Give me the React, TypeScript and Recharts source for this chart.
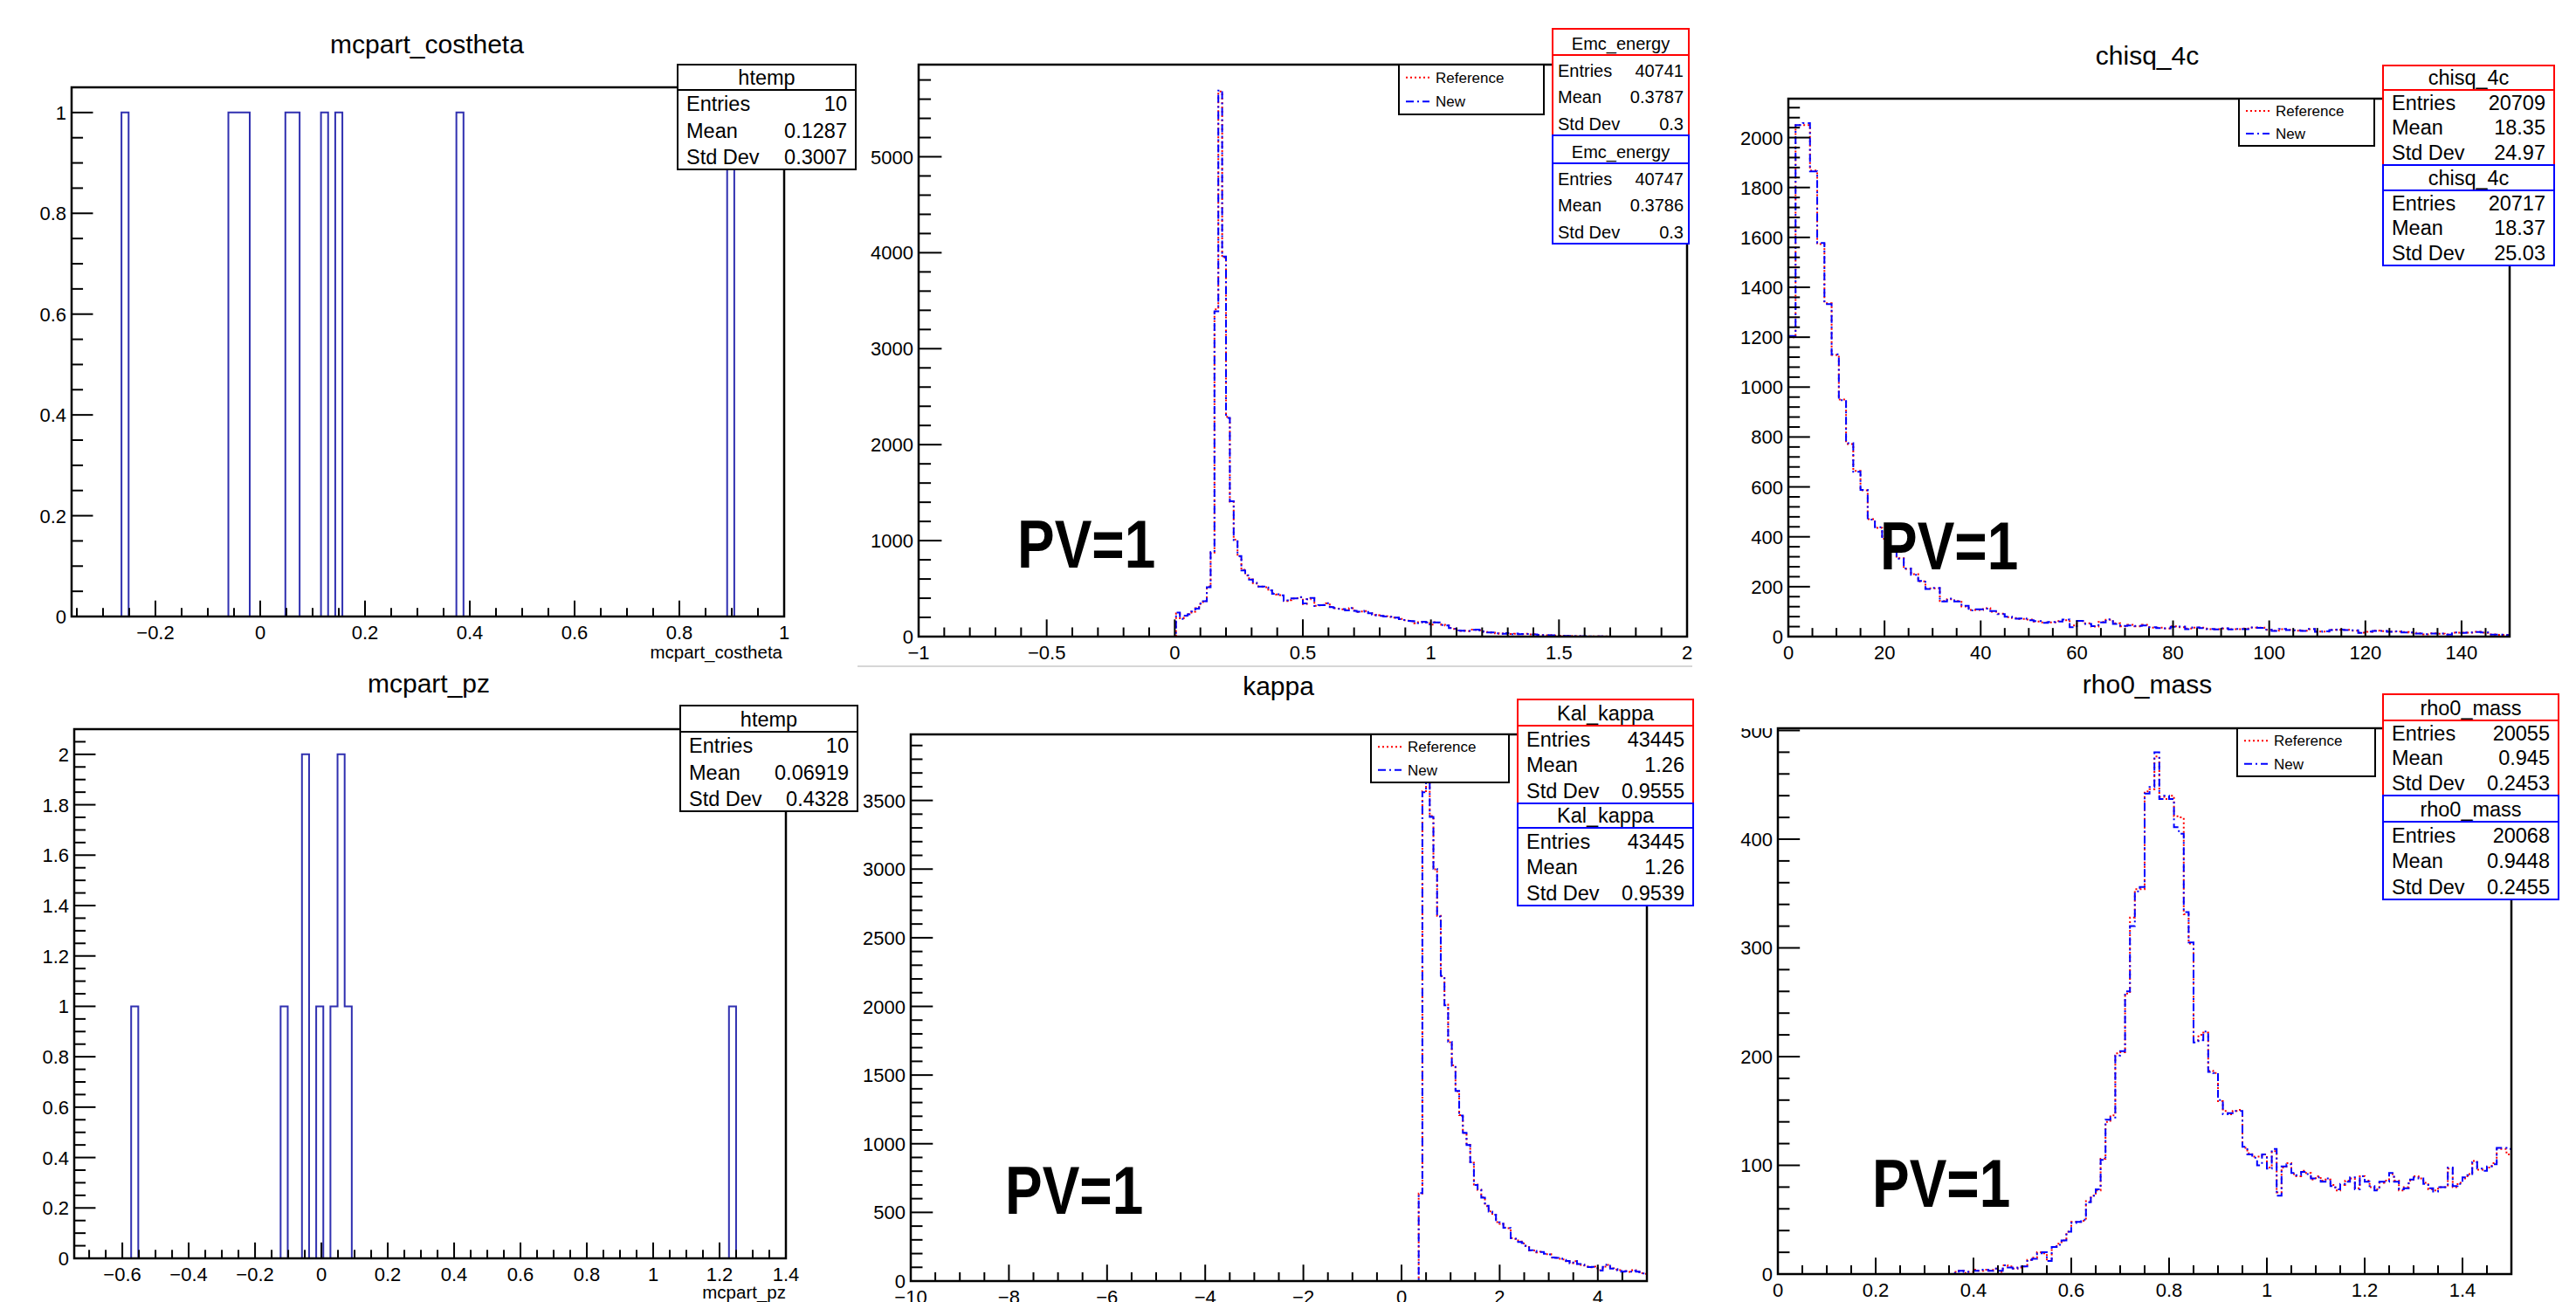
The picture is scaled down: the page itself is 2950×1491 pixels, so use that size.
import React from 'react';
import { LineChart, Line, XAxis, YAxis } from 'recharts';

const FONT = '"Liberation Sans", Arial, Helvetica, sans-serif';
const RED = '#ff0000';
const BLUE = '#0000ff';
const HTEMP = '#3030b0';

// ---------- mcpart_costheta (htemp, 100 bins) ----------
const costhetaBins = 100;
const costhetaRange: [number, number] = [-0.36, 1.0];
const costhetaFilledBins = [7, 22, 23, 24, 30, 31, 35, 37, 54, 92];
const costhetaFilledCounts = [1, 1, 1, 1, 1, 1, 1, 1, 1, 1];
const costhetaXMajor = [-0.2, 0, 0.2, 0.4, 0.6, 0.8, 1];
const costhetaYMajor = [0, 0.2, 0.4, 0.6, 0.8, 1];

// ---------- mcpart_pz (htemp, 100 bins) ----------
const pzBins = 100;
const pzRange: [number, number] = [-0.745, 1.4];
const pzFilledBins = [8, 29, 32, 34, 36, 37, 38, 92];
const pzFilledCounts = [1, 1, 2, 1, 1, 2, 1, 1];
const pzXMajor = [-0.6, -0.4, -0.2, 0, 0.2, 0.4, 0.6, 0.8, 1, 1.2, 1.4];
const pzYMajor = [0, 0.2, 0.4, 0.6, 0.8, 1, 1.2, 1.4, 1.6, 1.8, 2];

// ---------- Emc_energy (200 bins on [-1, 2], counts from bin 67) ----------
const emcBins = 200;
const emcRange: [number, number] = [-1, 2];
const emcFirstBin = 67;
const emcReference = [
  240, 190, 215, 235, 260, 295, 340, 370, 520, 875,
  3410, 5680, 3950, 2290, 1405, 1010, 835, 695, 637, 597,
  557, 523, 520, 515, 480, 450, 440, 432, 370, 380,
  395, 400, 410, 340, 390, 400, 320, 325, 330, 345,
  310, 295, 292, 285, 275, 295, 270, 258, 262, 266,
  245, 225, 222, 214, 212, 205, 198, 195, 185, 170,
  165, 160, 138, 150, 152, 150, 125, 150, 145, 122,
  115, 90, 80, 65, 60, 62, 58, 72, 70, 66,
  48, 45, 42, 35, 30, 32, 34, 28, 30, 26,
  25, 30, 22, 24, 18, 16, 14, 15, 12, 10,
  9, 8, 6, 5, 5, 4, 3, 3, 2, 2,
  1, 2, 1, 1,
];
const emcNew = [
  250, 185, 218, 232, 262, 292, 345, 368, 515, 880,
  3390, 5690, 3960, 2280, 1410, 1005, 840, 690, 640, 594,
  560, 520, 522, 512, 483, 447, 442, 430, 372, 378,
  398, 398, 412, 345, 388, 402, 318, 328, 327, 348,
  308, 297, 290, 287, 273, 297, 268, 260, 260, 268,
  243, 227, 220, 216, 210, 207, 196, 197, 183, 172,
  163, 162, 140, 148, 154, 148, 127, 148, 147, 120,
  117, 88, 82, 63, 62, 60, 60, 70, 72, 64,
  50, 43, 44, 33, 32, 30, 36, 26, 31, 25,
  27, 28, 23, 22, 19, 15, 15, 14, 13, 9,
  10, 7, 7, 4, 6, 3, 4, 2, 3, 1,
  2, 1, 1, 1,
];
const emcXMajor = [-1, -0.5, 0, 0.5, 1, 1.5, 2];
const emcYMajor = [0, 1000, 2000, 3000, 4000, 5000];

// ---------- chisq_4c (100 bins on [0, 150]) ----------
const chisqBins = 100;
const chisqRange: [number, number] = [0, 150];
const chisqReference = [
  1200, 2050, 2050, 1868, 1573, 1336, 1129, 950, 772, 664,
  586, 471, 436, 392, 343, 314, 271, 250, 221, 193,
  193, 143, 150, 143, 121, 107, 107, 114, 100, 92,
  78, 74, 71, 68, 60, 57, 57, 62, 66, 45,
  62, 53, 40, 59, 67, 53, 41, 47, 41, 47,
  36, 36, 32, 41, 38, 32, 36, 36, 30, 30,
  32, 30, 30, 32, 36, 36, 27, 24, 30, 27,
  24, 24, 30, 20, 20, 27, 27, 27, 24, 16,
  19, 24, 22, 20, 20, 18, 16, 13, 9, 13,
  11, 9, 16, 16, 16, 19, 16, 9, 7, 7,
];
const chisqNew = [
  1205, 2050, 2058, 1865, 1578, 1333, 1131, 948, 775, 661,
  588, 469, 438, 390, 345, 312, 273, 248, 223, 191,
  195, 141, 152, 141, 123, 105, 109, 112, 102, 90,
  80, 72, 73, 66, 62, 55, 59, 60, 68, 38,
  63, 51, 42, 57, 69, 51, 43, 45, 43, 45,
  38, 34, 33, 39, 40, 30, 37, 34, 31, 29,
  33, 29, 31, 30, 37, 35, 28, 23, 31, 26,
  25, 23, 31, 19, 21, 26, 28, 26, 25, 15,
  20, 23, 23, 19, 21, 17, 17, 12, 10, 12,
  12, 8, 17, 15, 17, 18, 17, 8, 8, 6,
];
const chisqXMajor = [0, 20, 40, 60, 80, 100, 120, 140];
const chisqYMajor = [0, 200, 400, 600, 800, 1000, 1200, 1400, 1600, 1800, 2000];

// ---------- kappa (200 bins on [-10, 5], counts from bin 138) ----------
const kappaBins = 200;
const kappaRange: [number, number] = [-10, 5];
const kappaFirstBin = 138;
const kappaReference = [
  637, 3568, 3790, 3387, 2998, 2660, 2219, 2012, 1739, 1571,
  1381, 1208, 1078, 992, 862, 702, 663, 611, 546, 507,
  481, 430, 416, 390, 385, 313, 307, 287, 274, 256,
  222, 222, 209, 213, 196, 196, 170, 170, 162, 157,
  144, 131, 144, 126, 118, 105, 100, 105, 92, 79,
  105, 118, 92, 85, 79, 66, 73, 66, 79, 66,
  58, 53,
];
const kappaNew = [
  640, 3560, 3795, 3380, 3002, 2655, 2222, 2008, 1742, 1568,
  1384, 1205, 1080, 990, 865, 700, 665, 608, 548, 505,
  483, 428, 418, 388, 387, 311, 309, 285, 276, 254,
  224, 220, 211, 211, 198, 194, 172, 168, 164, 155,
  146, 129, 146, 124, 120, 103, 102, 103, 94, 77,
  103, 120, 90, 87, 77, 68, 71, 68, 77, 68,
  56, 55,
];
const kappaXMajor = [-10, -8, -6, -4, -2, 0, 2, 4];
const kappaYMajor = [0, 500, 1000, 1500, 2000, 2500, 3000, 3500];

// ---------- rho0_mass (150 bins on [0, 1.5], counts from bin 36) ----------
const rhoBins = 150;
const rhoRange: [number, number] = [0, 1.5];
const rhoFirstBin = 36;
const rhoReference = [
  2, 3, 1, 2, 4, 3, 4, 3, 5, 2,
  8, 7, 5, 6, 7, 13, 15, 20, 19, 12,
  25, 28, 31, 39, 48, 48, 49, 67, 72, 77,
  106, 140, 146, 203, 204, 258, 328, 354, 354, 444,
  446, 476, 439, 437, 440, 421, 420, 331, 304, 215,
  220, 222, 187, 185, 159, 150, 147, 150, 151, 116,
  111, 108, 108, 110, 98, 113, 75, 98, 102, 92,
  90, 95, 93, 87, 90, 86, 87, 82, 77, 82,
  86, 88, 79, 90, 86, 80, 78, 84, 86, 92,
  86, 77, 80, 86, 90, 88, 84, 78, 77, 80,
  80, 97, 80, 84, 88, 92, 104, 96, 96, 98,
  102, 115, 115, 110,
];
const rhoNew = [
  1, 3, 2, 2, 3, 4, 4, 3, 5, 3,
  8, 6, 5, 7, 7, 13, 14, 19, 20, 12,
  25, 27, 31, 39, 47, 48, 50, 66, 72, 78,
  105, 142, 144, 201, 205, 260, 320, 352, 356, 442,
  448, 480, 437, 440, 437, 411, 405, 333, 305, 213,
  215, 223, 186, 185, 160, 147, 148, 150, 150, 117,
  110, 107, 100, 110, 97, 115, 72, 99, 101, 93,
  91, 94, 92, 88, 89, 85, 88, 81, 78, 83,
  85, 89, 78, 90, 85, 81, 77, 85, 85, 93,
  85, 78, 79, 87, 89, 88, 83, 79, 76, 80,
  80, 98, 81, 83, 89, 91, 103, 97, 95, 99,
  101, 116, 116, 115,
];
const rhoXMajor = [0, 0.2, 0.4, 0.6, 0.8, 1, 1.2, 1.4];
const rhoYMajor = [0, 100, 200, 300, 400, 500];

// ---------- stat boxes ----------
const statLabels = ['Entries', 'Mean', 'Std Dev'];
const costhetaStats = ['htemp', '10', '0.1287', '0.3007'];
const pzStats = ['htemp', '10', '0.06919', '0.4328'];
const emcRefStats = ['Emc_energy', '40741', '0.3787', '0.3'];
const emcNewStats = ['Emc_energy', '40747', '0.3786', '0.3'];
const chisqRefStats = ['chisq_4c', '20709', '18.35', '24.97'];
const chisqNewStats = ['chisq_4c', '20717', '18.37', '25.03'];
const kappaRefStats = ['Kal_kappa', '43445', '1.26', '0.9555'];
const kappaNewStats = ['Kal_kappa', '43445', '1.26', '0.9539'];
const rhoRefStats = ['rho0_mass', '20055', '0.945', '0.2453'];
const rhoNewStats = ['rho0_mass', '20068', '0.9448', '0.2455'];
const legendLabels = ['Reference', 'New'];

// ---------- helpers ----------
function sparseCounts(n: number, bins: number[], counts: number[]) {
  const a = new Array(n).fill(0);
  bins.forEach((b, i) => { a[b] = counts[i]; });
  return a;
}

function histRows(range: [number, number], n: number, first: number, ref: number[], neu?: number[]) {
  const w = (range[1] - range[0]) / n;
  const rows: { x: number; ref: number; neu: number }[] = [];
  for (let i = 0; i <= n; i++) {
    const b = Math.min(i, n - 1) - first;
    rows.push({ x: range[0] + i * w, ref: ref[b] ?? 0, neu: (neu ?? ref)[b] ?? 0 });
  }
  return rows;
}

function tickList(lo: number, hi: number, step: number) {
  const out: number[] = [];
  const start = Math.ceil(lo / step - 1e-9);
  for (let i = start; i * step <= hi + 1e-9; i++) out.push(Math.round(i * step * 1e6) / 1e6);
  return out;
}

const isMajor = (v: number, majors: number[]) => majors.some((m) => Math.abs(m - v) < 1e-6);
const fmt = (v: number) => {
  const r = Math.round(v * 1e4) / 1e4;
  return r < 0 ? '\u2212' + String(-r) : String(r);
};

type Frame = { x: number; y: number; w: number; h: number };
type Series = { key: 'ref' | 'neu'; color: string; dash?: string; width: number };
type Panel = {
  frame: Frame;
  rows: { x: number; ref: number; neu: number }[];
  xDomain: [number, number];
  yDomain: [number, number];
  xMajor: number[];
  xMinor: number;
  yMajor: number[];
  yMinor: number;
  series: Series[];
};

const YW = 90;
const XH = 60;
const RM = 40;

const refSeries: Series = { key: 'ref', color: RED, dash: '2 3', width: 2 };
const newSeries: Series = { key: 'neu', color: BLUE, dash: '9 4 2 4', width: 2 };
const htempSeries: Series[] = [{ key: 'ref', color: HTEMP, width: 2 }];

const panels: Panel[] = [
  {
    frame: { x: 82, y: 100, w: 816, h: 606 },
    rows: histRows(costhetaRange, costhetaBins, 0, sparseCounts(costhetaBins, costhetaFilledBins, costhetaFilledCounts)),
    xDomain: costhetaRange, yDomain: [0, 1.05],
    xMajor: costhetaXMajor, xMinor: 0.05, yMajor: costhetaYMajor, yMinor: 0.05,
    series: htempSeries,
  },
  {
    frame: { x: 1052, y: 74, w: 880, h: 655 },
    rows: histRows(emcRange, emcBins, emcFirstBin, emcReference, emcNew),
    xDomain: emcRange, yDomain: [0, 5960],
    xMajor: emcXMajor, xMinor: 0.1, yMajor: emcYMajor, yMinor: 200,
    series: [refSeries, newSeries],
  },
  {
    frame: { x: 2048, y: 113, w: 826, h: 616 },
    rows: histRows(chisqRange, chisqBins, 0, chisqReference, chisqNew),
    xDomain: chisqRange, yDomain: [0, 2156],
    xMajor: chisqXMajor, xMinor: 5, yMajor: chisqYMajor, yMinor: 40,
    series: [refSeries, newSeries],
  },
  {
    frame: { x: 85, y: 835, w: 815, h: 606 },
    rows: histRows(pzRange, pzBins, 0, sparseCounts(pzBins, pzFilledBins, pzFilledCounts)),
    xDomain: pzRange, yDomain: [0, 2.1],
    xMajor: pzXMajor, xMinor: 0.05, yMajor: pzYMajor, yMinor: 0.05,
    series: htempSeries,
  },
  {
    frame: { x: 1043, y: 841, w: 843, h: 626 },
    rows: histRows(kappaRange, kappaBins, kappaFirstBin, kappaReference, kappaNew),
    xDomain: kappaRange, yDomain: [0, 3981],
    xMajor: kappaXMajor, xMinor: 0.5, yMajor: kappaYMajor, yMinor: 100,
    series: [refSeries, newSeries],
  },
  {
    frame: { x: 2036, y: 834, w: 840, h: 625 },
    rows: histRows(rhoRange, rhoBins, rhoFirstBin, rhoReference, rhoNew),
    xDomain: rhoRange, yDomain: [0, 502],
    xMajor: rhoXMajor, xMinor: 0.05, yMajor: rhoYMajor, yMinor: 20,
    series: [refSeries, newSeries],
  },
];

function XTick(props: any) {
  const { x, payload, p } = props;
  const v = payload.value as number;
  const major = isMajor(v, p.xMajor);
  const ay = p.frame.h;
  const len = (major ? 0.03 : 0.016) * p.frame.h;
  return (
    <g>
      <line x1={x} x2={x} y1={ay} y2={ay - len} stroke="#000" strokeWidth={2} />
      {major && (
        <text x={x} y={ay + 26} textAnchor="middle" fontFamily={FONT} fontSize={22} fill="#000">
          {fmt(v)}
        </text>
      )}
    </g>
  );
}

function YTick(props: any) {
  const { y, payload, p } = props;
  const v = payload.value as number;
  const major = isMajor(v, p.yMajor);
  const len = (major ? 0.03 : 0.016) * p.frame.w;
  return (
    <g>
      <line x1={YW} x2={YW + len} y1={y} y2={y} stroke="#000" strokeWidth={2} />
      {major && (
        <text x={YW - 6} y={y + 8} textAnchor="end" fontFamily={FONT} fontSize={22} fill="#000">
          {fmt(v)}
        </text>
      )}
    </g>
  );
}

function HistPanel({ p }: { p: Panel }) {
  return (
    <div style={{ position: 'absolute', left: p.frame.x - YW, top: p.frame.y }}>
      <LineChart
        width={p.frame.w + YW + RM}
        height={p.frame.h + XH}
        data={p.rows}
        margin={{ top: 0, right: RM, bottom: 0, left: 0 }}
      >
        <XAxis
          type="number"
          dataKey="x"
          domain={p.xDomain}
          allowDataOverflow
          ticks={tickList(p.xDomain[0], p.xDomain[1], p.xMinor)}
          interval={0}
          height={XH}
          axisLine={false}
          tickLine={false}
          tickSize={0}
          tickMargin={0}
          tick={(t: any) => <XTick {...t} p={p} />}
        />
        <YAxis
          type="number"
          domain={p.yDomain}
          allowDataOverflow
          ticks={tickList(p.yDomain[0], p.yDomain[1], p.yMinor)}
          interval={0}
          width={YW}
          axisLine={false}
          tickLine={false}
          tickSize={0}
          tickMargin={0}
          tick={(t: any) => <YTick {...t} p={p} />}
        />
        {p.series.map((s) => (
          <Line
            key={s.key}
            dataKey={s.key}
            type="stepAfter"
            stroke={s.color}
            strokeWidth={s.width}
            strokeDasharray={s.dash}
            dot={false}
            activeDot={false}
            isAnimationActive={false}
          />
        ))}
      </LineChart>
    </div>
  );
}

type BoxSpec = { x: number; y: number; w: number; h: number; head: number; color: string; stats: string[]; fs?: number; pad?: number };

function StatBox({ b }: { b: BoxSpec }) {
  const rowH = (b.h - b.head) / 3;
  const pad = b.pad ?? 10;
  return (
    <g fontFamily={FONT} fontSize={b.fs ?? 23.5} fill="#000">
      <rect x={b.x} y={b.y} width={b.w} height={b.h} fill="#fff" stroke={b.color} strokeWidth={2} />
      <line x1={b.x} x2={b.x + b.w} y1={b.y + b.head} y2={b.y + b.head} stroke={b.color} strokeWidth={2} />
      <text x={b.x + b.w / 2} y={b.y + b.head - 6} textAnchor="middle">{b.stats[0]}</text>
      {statLabels.map((lab, i) => (
        <g key={lab}>
          <text x={b.x + pad} y={b.y + b.head + rowH * (i + 1) - 6}>{lab}</text>
          <text x={b.x + b.w - pad} y={b.y + b.head + rowH * (i + 1) - 6} textAnchor="end">{b.stats[i + 1]}</text>
        </g>
      ))}
    </g>
  );
}

type LegendSpec = { x: number; y: number; w: number; h: number };

function LegendBox({ l }: { l: LegendSpec }) {
  const styles = [refSeries, newSeries];
  return (
    <g fontFamily={FONT} fontSize={17} fill="#000">
      <rect x={l.x} y={l.y} width={l.w} height={l.h} fill="#fff" stroke="#000" strokeWidth={2} />
      {legendLabels.map((lab, i) => {
        const cy = l.y + l.h * (i === 0 ? 0.26 : 0.74);
        return (
          <g key={lab}>
            <line x1={l.x + 8} x2={l.x + 35} y1={cy} y2={cy} stroke={styles[i].color} strokeWidth={2} strokeDasharray={styles[i].dash} />
            <text x={l.x + 42} y={cy + 6}>{lab}</text>
          </g>
        );
      })}
    </g>
  );
}

const statBoxes: BoxSpec[] = [
  { x: 776, y: 74, w: 204, h: 120, head: 29, color: '#000', stats: costhetaStats },
  { x: 779, y: 808, w: 203, h: 121, head: 30, color: '#000', stats: pzStats },
  { x: 1778, y: 33, w: 156, h: 122, head: 30, color: RED, stats: emcRefStats, fs: 20, pad: 6 },
  { x: 1778, y: 155, w: 156, h: 124, head: 32, color: BLUE, stats: emcNewStats, fs: 20, pad: 6 },
  { x: 2729, y: 75, w: 196, h: 114, head: 28, color: RED, stats: chisqRefStats },
  { x: 2729, y: 189, w: 196, h: 115, head: 29, color: BLUE, stats: chisqNewStats },
  { x: 1738, y: 801, w: 201, h: 119, head: 30, color: RED, stats: kappaRefStats },
  { x: 1738, y: 920, w: 201, h: 117, head: 28, color: BLUE, stats: kappaNewStats },
  { x: 2729, y: 795, w: 201, h: 116, head: 30, color: RED, stats: rhoRefStats },
  { x: 2729, y: 911, w: 201, h: 119, head: 30, color: BLUE, stats: rhoNewStats },
];

const legends: LegendSpec[] = [
  { x: 1602, y: 74, w: 166, h: 57 },
  { x: 2564, y: 113, w: 155, h: 54 },
  { x: 1570, y: 841, w: 158, h: 55 },
  { x: 2562, y: 834, w: 158, h: 55 },
];

const titles = [
  { text: 'mcpart_costheta', x: 489, y: 61 },
  { text: 'chisq_4c', x: 2459, y: 74 },
  { text: 'mcpart_pz', x: 491, y: 793 },
  { text: 'kappa', x: 1464, y: 796 },
  { text: 'rho0_mass', x: 2459, y: 794 },
];

const axisTitles = [
  { text: 'mcpart_costheta', x: 896, y: 754 },
  { text: 'mcpart_pz', x: 900, y: 1487 },
];

const pvLabels = [
  { x: 1165, y: 650 },
  { x: 2153, y: 652 },
  { x: 1151, y: 1390 },
  { x: 2144, y: 1382 },
];

export default function App() {
  return (
    <div style={{ position: 'absolute', left: 0, top: 0, width: 2950, height: 1491, background: '#fff', overflow: 'hidden' }}>
      {panels.map((p, i) => (
        <HistPanel key={i} p={p} />
      ))}
      <svg width={2950} height={1491} style={{ position: 'absolute', left: 0, top: 0, pointerEvents: 'none' }}>
        <line x1={982} x2={1938} y1={763} y2={763} stroke="#c8c8c8" strokeWidth={1.5} />
        {panels.map((p, i) => (
          <rect key={i} x={p.frame.x} y={p.frame.y} width={p.frame.w} height={p.frame.h} fill="none" stroke="#000" strokeWidth={2.5} />
        ))}
        {titles.map((t) => (
          <text key={t.text} x={t.x} y={t.y} textAnchor="middle" fontFamily={FONT} fontSize={30} fill="#000">{t.text}</text>
        ))}
        {axisTitles.map((t) => (
          <text key={t.text} x={t.x} y={t.y} textAnchor="end" fontFamily={FONT} fontSize={20.5} fill="#000">{t.text}</text>
        ))}
        {pvLabels.map((l, i) => (
          <text key={i} transform={`translate(${l.x},${l.y}) scale(0.82,1)`} fontFamily={FONT} fontWeight="bold" fontSize={78} fill="#000">PV=1</text>
        ))}
        {legends.map((l, i) => (
          <LegendBox key={i} l={l} />
        ))}
        {statBoxes.map((b, i) => (
          <StatBox key={i} b={b} />
        ))}
      </svg>
    </div>
  );
}
